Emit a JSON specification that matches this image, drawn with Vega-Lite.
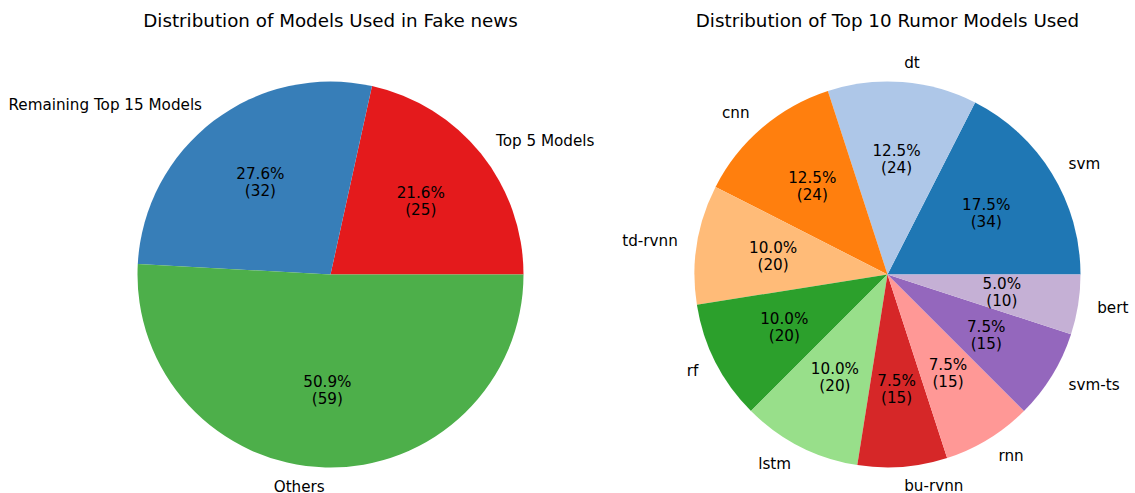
{
  "$schema": "https://vega.github.io/schema/vega-lite/v6.json",
  "background": "white",
  "padding": {"left": 0, "top": 11, "right": 0, "bottom": 0},
  "spacing": 0,
  "bounds": "flush",
  "resolve": {"scale": {"color": "independent", "theta": "independent"}},
  "config": {"view": {"stroke": null}, "font": "DejaVu Sans"},
  "hconcat": [
    {
      "width": 661,
      "height": 439,
      "title": {"text": "Distribution of Models Used in Fake news", "fontSize": 18.3, "fontWeight": "normal", "font": "DejaVu Sans", "color": "#000000", "offset": 6, "baseline": "bottom", "anchor": "middle"},
      "data": {"values": [
        {"part": "Top 5 Models", "count": 25, "label": "21.6%\n(25)"},
        {"part": "Remaining Top 15 Models", "count": 32, "label": "27.6%\n(32)"},
        {"part": "Others", "count": 59, "label": "50.9%\n(59)"}
      ]},
      "transform": [{"window": [{"op": "row_number", "as": "slice_order"}]}],
      "encoding": {
        "theta": {"field": "count", "type": "quantitative", "stack": true, "scale": {"range": [1.5707963267948966, -4.71238898038469], "nice": false, "zero": true}},
        "order": {"field": "slice_order", "type": "quantitative"}
      },
      "layer": [
        {
          "mark": {"type": "arc", "radius": 193, "stroke": null},
          "encoding": {"color": {"field": "part", "type": "nominal", "scale": {"domain": ["Top 5 Models", "Remaining Top 15 Models", "Others"], "range": ["#e41a1c", "#377eb8", "#4daf4a"]}, "legend": null}}
        },
        {
          "mark": {"type": "text", "radius": 212.3, "fontSize": 15.2, "baseline": "middle", "color": "#000000", "align": {"expr": "datum.part === 'Top 5 Models' ? 'left' : 'right'"}},
          "encoding": {"detail": {"field": "part", "type": "nominal"}, "text": {"field": "part", "type": "nominal"}}
        },
        {
          "mark": {"type": "text", "radius": 115.8, "fontSize": 15.2, "baseline": "middle", "align": "center", "lineBreak": "\n", "lineHeight": 17, "dy": -8.5, "color": "#000000"},
          "encoding": {"detail": {"field": "part", "type": "nominal"}, "text": {"field": "label", "type": "nominal"}}
        }
      ]
    },
    {
      "width": 453,
      "height": 439,
      "title": {"text": "Distribution of Top 10 Rumor Models Used", "fontSize": 18.3, "fontWeight": "normal", "font": "DejaVu Sans", "color": "#000000", "offset": 6, "baseline": "bottom", "anchor": "middle"},
      "data": {"values": [
        {"model": "svm", "share": 17.5, "label": "17.5%\n(34)"},
        {"model": "dt", "share": 12.5, "label": "12.5%\n(24)"},
        {"model": "cnn", "share": 12.5, "label": "12.5%\n(24)"},
        {"model": "td-rvnn", "share": 10.0, "label": "10.0%\n(20)"},
        {"model": "rf", "share": 10.0, "label": "10.0%\n(20)"},
        {"model": "lstm", "share": 10.0, "label": "10.0%\n(20)"},
        {"model": "bu-rvnn", "share": 7.5, "label": "7.5%\n(15)"},
        {"model": "rnn", "share": 7.5, "label": "7.5%\n(15)"},
        {"model": "svm-ts", "share": 7.5, "label": "7.5%\n(15)"},
        {"model": "bert", "share": 5.0, "label": "5.0%\n(10)"}
      ]},
      "transform": [{"window": [{"op": "row_number", "as": "slice_order"}]}],
      "encoding": {
        "theta": {"field": "share", "type": "quantitative", "stack": true, "scale": {"range": [1.5707963267948966, -4.71238898038469], "nice": false, "zero": true}},
        "order": {"field": "slice_order", "type": "quantitative"}
      },
      "layer": [
        {
          "mark": {"type": "arc", "radius": 193, "stroke": null},
          "encoding": {"color": {"field": "model", "type": "nominal", "scale": {"domain": ["svm", "dt", "cnn", "td-rvnn", "rf", "lstm", "bu-rvnn", "rnn", "svm-ts", "bert"], "range": ["#1f77b4", "#aec7e8", "#ff7f0e", "#ffbb78", "#2ca02c", "#98df8a", "#d62728", "#ff9896", "#9467bd", "#c5b0d5"]}, "legend": null}}
        },
        {
          "mark": {"type": "text", "radius": 212.3, "fontSize": 15.2, "baseline": "middle", "color": "#000000", "align": {"expr": "indexof(['cnn', 'td-rvnn', 'rf', 'lstm'], datum.model) >= 0 ? 'right' : 'left'"}},
          "encoding": {"detail": {"field": "model", "type": "nominal"}, "text": {"field": "model", "type": "nominal"}}
        },
        {
          "mark": {"type": "text", "radius": 115.8, "fontSize": 15.2, "baseline": "middle", "align": "center", "lineBreak": "\n", "lineHeight": 17, "dy": -8.5, "color": "#000000"},
          "encoding": {"detail": {"field": "model", "type": "nominal"}, "text": {"field": "label", "type": "nominal"}}
        }
      ]
    }
  ]
}
